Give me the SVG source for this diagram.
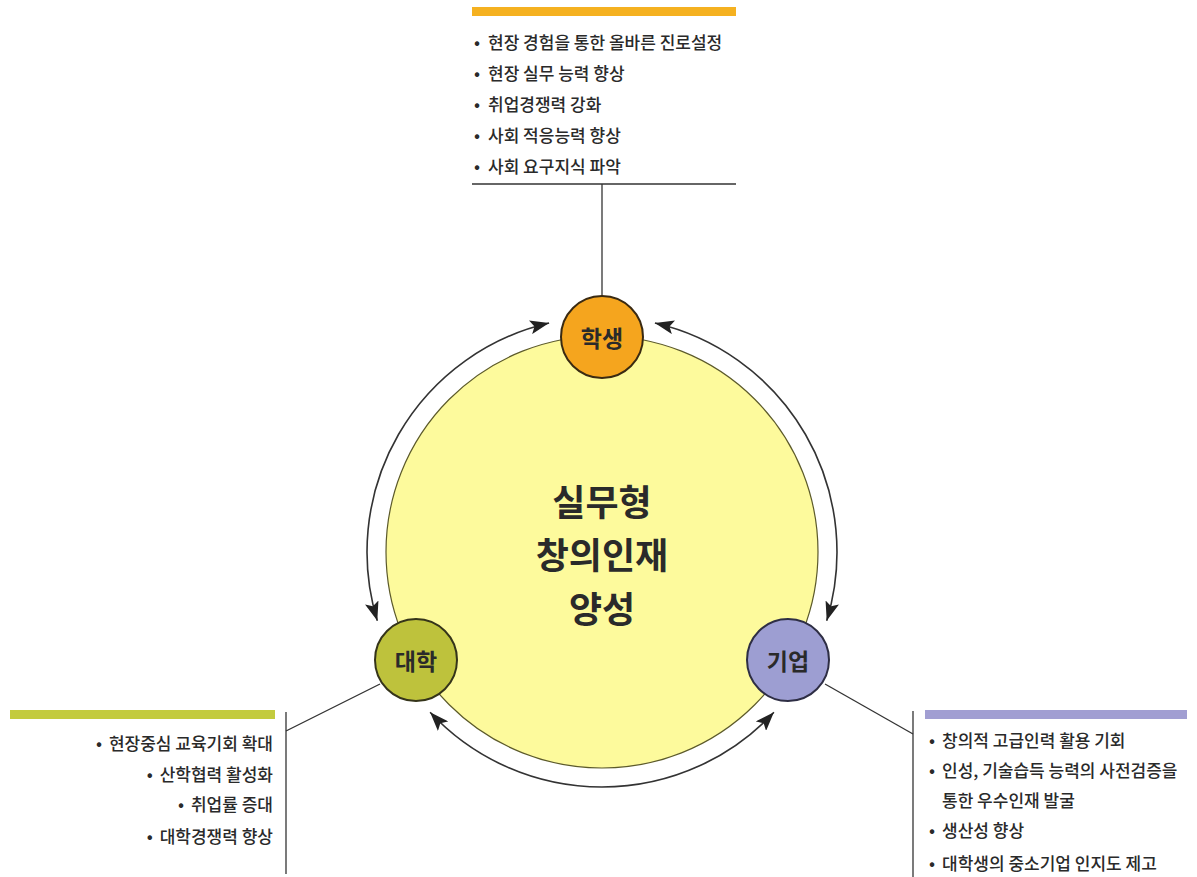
<svg xmlns="http://www.w3.org/2000/svg" width="1197" height="877" viewBox="0 0 1197 877">
<style>
text{font-family:"Noto Sans CJK KR","Noto Sans",sans-serif;fill:#2a2a2a}
.item{font-size:17px;font-weight:500;dominant-baseline:central}
.node{font-size:23px;font-weight:bold;text-anchor:middle;dominant-baseline:central}
.center{font-size:36px;font-weight:bold;text-anchor:middle;dominant-baseline:central}
.rule{stroke:#333;stroke-width:1.3;fill:none}
.arc{stroke:#333;stroke-width:1.6;fill:none;marker-start:url(#ah);marker-end:url(#ah)}
</style>
<defs>
<marker id="ah" markerUnits="userSpaceOnUse" markerWidth="20" markerHeight="14" viewBox="0 0 20 14" refX="19" refY="7" orient="auto-start-reverse">
<path d="M0,0 L19,7 L0,14 L4,7 Z" fill="#222"/>
</marker>
</defs>
<rect width="1197" height="877" fill="#fff"/>
<g id="hub">
<circle cx="602" cy="552" r="216" fill="#fdfa9c" stroke="#5c5a2a" stroke-width="1.2"/>
<text class="center" x="602" y="500">실무형</text>
<text class="center" x="602" y="553">창의인재</text>
<text class="center" x="602" y="607">양성</text>
</g>
<g id="connectors">
<path class="arc" d="M377.3,620.7 A235,235 0 0 1 549.1,323"/>
<path class="arc" d="M654.9,323 A235,235 0 0 1 826.7,620.7"/>
<path class="arc" d="M773.9,712.3 A235,235 0 0 1 430.1,712.3"/>
<line class="rule" x1="602" y1="184" x2="602" y2="296"/>
<line class="rule" x1="380" y1="684" x2="286" y2="731"/>
<line class="rule" x1="825" y1="684" x2="913" y2="734"/>
</g>
<g id="student">
<circle cx="602" cy="337" r="41" fill="#f5a51e" stroke="#3a2a12" stroke-width="2"/>
<text class="node" x="602" y="337">학생</text>
</g>
<g id="university">
<circle cx="416" cy="660" r="41" fill="#bec23c" stroke="#35341a" stroke-width="2"/>
<text class="node" x="416" y="660">대학</text>
</g>
<g id="company">
<circle cx="788" cy="660" r="41" fill="#9d9ed2" stroke="#2e2e44" stroke-width="2"/>
<text class="node" x="788" y="660">기업</text>
</g>
<g id="student-panel">
<rect x="472" y="7" width="264" height="9" fill="#f5b120"/>
<text class="item" y="41"><tspan x="474">•</tspan><tspan x="488">현장 경험을 통한 올바른 진로설정</tspan></text>
<text class="item" y="72"><tspan x="474">•</tspan><tspan x="488">현장 실무 능력 향상</tspan></text>
<text class="item" y="103"><tspan x="474">•</tspan><tspan x="488">취업경쟁력 강화</tspan></text>
<text class="item" y="134"><tspan x="474">•</tspan><tspan x="488">사회 적응능력 향상</tspan></text>
<text class="item" y="165"><tspan x="474">•</tspan><tspan x="488">사회 요구지식 파악</tspan></text>
<line class="rule" x1="472" y1="184" x2="736" y2="184"/>
</g>
<g id="university-panel">
<rect x="10" y="710" width="265" height="9" fill="#c3cb3e"/>
<line class="rule" x1="286" y1="712" x2="286" y2="874"/>
<text class="item" x="273" y="742" text-anchor="end">•<tspan dx="7">현장중심 교육기회 확대</tspan></text>
<text class="item" x="273" y="773" text-anchor="end">•<tspan dx="7">산학협력 활성화</tspan></text>
<text class="item" x="273" y="803" text-anchor="end">•<tspan dx="7">취업률 증대</tspan></text>
<text class="item" x="273" y="835" text-anchor="end">•<tspan dx="7">대학경쟁력 향상</tspan></text>
</g>
<g id="company-panel">
<rect x="925" y="710" width="262" height="9" fill="#a19ed2"/>
<line class="rule" x1="913" y1="711" x2="913" y2="877"/>
<text class="item" y="739"><tspan x="929">•</tspan><tspan x="942">창의적 고급인력 활용 기회</tspan></text>
<text class="item" y="769"><tspan x="929">•</tspan><tspan x="942">인성, 기술습득 능력의 사전검증을</tspan></text>
<text class="item" x="942" y="799">통한 우수인재 발굴</text>
<text class="item" y="829"><tspan x="929">•</tspan><tspan x="942">생산성 향상</tspan></text>
<text class="item" y="862"><tspan x="929">•</tspan><tspan x="942">대학생의 중소기업 인지도 제고</tspan></text>
</g>
</svg>
